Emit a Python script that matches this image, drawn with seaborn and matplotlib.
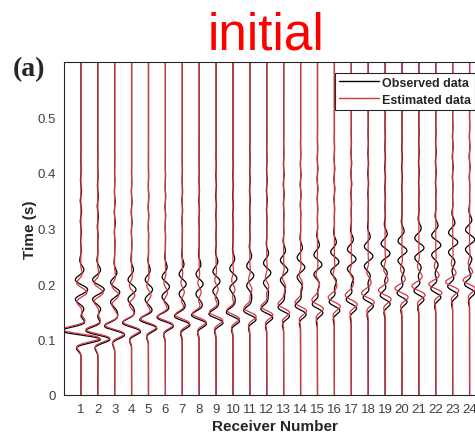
import numpy as np
import pandas as pd
import matplotlib
matplotlib.use("Agg")
import matplotlib.pyplot as plt
from matplotlib.lines import Line2D
import seaborn as sns

# ---- data -------------------------------------------------------------
receivers = list(range(1, 25))
xtick_labels = [str(r) for r in receivers]
ytick_values = [0, 0.1, 0.2, 0.3, 0.4, 0.5]

# main arrival: centre time (s) and peak amplitude (in receiver spacings)
main_time_obs = [0.108, 0.108, 0.116, 0.122, 0.128, 0.132, 0.134, 0.136, 0.138, 0.141, 0.144, 0.147,
                 0.150, 0.153, 0.156, 0.160, 0.164, 0.168, 0.172, 0.176, 0.180, 0.184, 0.188, 0.192]
main_amp_obs = [1.15, 0.72, 0.58, 0.52, 0.48, 0.46, 0.44, 0.42, 0.40, 0.38, 0.36, 0.35,
                0.34, 0.33, 0.32, 0.32, 0.31, 0.31, 0.30, 0.30, 0.30, 0.30, 0.30, 0.30]
main_time_est = [0.110, 0.110, 0.118, 0.124, 0.130, 0.134, 0.137, 0.139, 0.142, 0.145, 0.149, 0.152,
                 0.156, 0.159, 0.163, 0.167, 0.171, 0.175, 0.180, 0.184, 0.188, 0.192, 0.196, 0.200]
main_amp_est = [1.10, 0.70, 0.56, 0.50, 0.47, 0.45, 0.43, 0.41, 0.40, 0.38, 0.37, 0.36,
                0.35, 0.35, 0.34, 0.34, 0.34, 0.34, 0.34, 0.34, 0.34, 0.34, 0.34, 0.34]

# later wave train (coda): centre time (s) and peak amplitude
coda_time_obs = [0.190, 0.190, 0.185, 0.190, 0.190, 0.195, 0.200, 0.200, 0.205, 0.210, 0.215, 0.220,
                 0.225, 0.230, 0.235, 0.240, 0.245, 0.250, 0.255, 0.260, 0.265, 0.270, 0.275, 0.280]
coda_amp_obs = [0.40, 0.38, 0.30, 0.26, 0.24, 0.24, 0.23, 0.23, 0.23, 0.23, 0.23, 0.24,
                0.24, 0.25, 0.26, 0.27, 0.28, 0.28, 0.29, 0.29, 0.30, 0.30, 0.30, 0.30]
coda_time_est = [0.185, 0.185, 0.180, 0.180, 0.180, 0.185, 0.185, 0.185, 0.190, 0.190, 0.190, 0.195,
                 0.195, 0.200, 0.200, 0.200, 0.205, 0.205, 0.210, 0.210, 0.215, 0.215, 0.220, 0.220]
coda_amp_est = [0.36, 0.32, 0.24, 0.19, 0.15, 0.13, 0.12, 0.12, 0.12, 0.12, 0.12, 0.12,
                0.12, 0.12, 0.12, 0.12, 0.12, 0.12, 0.12, 0.12, 0.12, 0.12, 0.12, 0.12]

# weak late energy on the recorded traces
late_time_obs = [0.34, 0.33, 0.32, 0.32, 0.33, 0.33, 0.34, 0.34, 0.35, 0.35, 0.36, 0.36,
                 0.37, 0.37, 0.38, 0.38, 0.39, 0.39, 0.40, 0.40, 0.41, 0.41, 0.42, 0.42]
late_amp_obs = [0.040, 0.035, 0.030, 0.025, 0.020, 0.020, 0.020, 0.020, 0.025, 0.025, 0.025, 0.025,
                0.025, 0.025, 0.025, 0.025, 0.025, 0.025, 0.025, 0.025, 0.025, 0.025, 0.025, 0.025]

# ---- wavelets ----------------------------------------------------------
FREQ = 27.0
time = np.linspace(0.0, 0.6, 1201)


def wavelet(t, t0, width, phase):
    tau = t - t0
    w = np.exp(-(tau / width) ** 2)
    w = w * (-np.sin(2 * np.pi * FREQ * tau) if phase == "sin" else np.cos(2 * np.pi * FREQ * tau))
    ref = np.linspace(-4 * width, 4 * width, 4001)
    rw = np.exp(-(ref / width) ** 2) * (np.sin(2 * np.pi * FREQ * ref) if phase == "sin"
                                         else np.cos(2 * np.pi * FREQ * ref))
    return w / np.abs(rw).max()


def trace(mt, ma, ct, ca, coda_width):
    return ma * wavelet(time, mt, 0.020, "sin") + ca * wavelet(time, ct, coda_width, "cos")


rows = []
for i, r in enumerate(receivers):
    obs = trace(main_time_obs[i], main_amp_obs[i], coda_time_obs[i], coda_amp_obs[i], 0.040)
    obs = obs + late_amp_obs[i] * wavelet(time, late_time_obs[i], 0.07, "sin")
    est = trace(main_time_est[i], main_amp_est[i], coda_time_est[i], coda_amp_est[i], 0.028)
    rows.append(pd.DataFrame({"receiver": r, "time": time, "x": r + obs, "kind": "Observed data"}))
    rows.append(pd.DataFrame({"receiver": r, "time": time, "x": r + est, "kind": "Estimated data"}))
df = pd.concat(rows, ignore_index=True)

# ---- figure ------------------------------------------------------------
sns.set_style("white")
plt.rcParams["font.family"] = ["Liberation Sans", "DejaVu Sans"]

RED = "#d63441"
fig = plt.figure(figsize=(4.75, 4.39), dpi=100)
ax = fig.add_axes([64 / 475, 43 / 439, 422.5 / 475, 333 / 439])

sns.lineplot(data=df, x="x", y="time", hue="kind", units="receiver", estimator=None,
             sort=False, orient="y", palette={"Observed data": "black", "Estimated data": RED},
             hue_order=["Observed data", "Estimated data"], linewidth=0.9, legend=False, ax=ax)

ax.set_xlim(0, 25)
ax.set_ylim(0, 0.6)
ax.set_xticks(receivers)
ax.set_xticklabels(xtick_labels)
ax.set_yticks(ytick_values)
ax.set_yticklabels([f"{v:g}" for v in ytick_values])
ax.tick_params(direction="in", length=4, width=0.8, labelsize=9.5, colors="#262626",
               labelcolor="#404040", pad=6)
for s in ax.spines.values():
    s.set_color("#262626")
    s.set_linewidth(0.8)

ax.set_xlabel("Receiver Number", fontsize=11, fontweight="bold", color="#262626", labelpad=3)
ax.set_ylabel("Time (s)", fontsize=11, fontweight="bold", color="#262626", labelpad=0)

handles = [Line2D([], [], color="black", lw=1.0), Line2D([], [], color=RED, lw=1.0)]
leg = fig.legend(handles, ["Observed data", "Estimated data"], loc="upper left",
                 bbox_to_anchor=(335 / 475, 1 - 74 / 439), prop={"weight": "bold", "size": 9},
                 frameon=True, fancybox=False, edgecolor="#262626", framealpha=1,
                 handlelength=3.2, handletextpad=0.25, borderpad=0.3, labelspacing=0.4,
                 borderaxespad=0)
leg.get_frame().set_linewidth(0.8)

fig.text(266 / 475, 1 - 50 / 439, "initial", color="red", fontsize=37, ha="center",
         va="baseline")
fig.text(13 / 475, 1 - 76 / 439, "(a)", fontsize=20, fontweight="bold",
         family=["Liberation Serif", "DejaVu Serif"], ha="left", va="baseline")

fig.savefig("out.png", dpi=100)
